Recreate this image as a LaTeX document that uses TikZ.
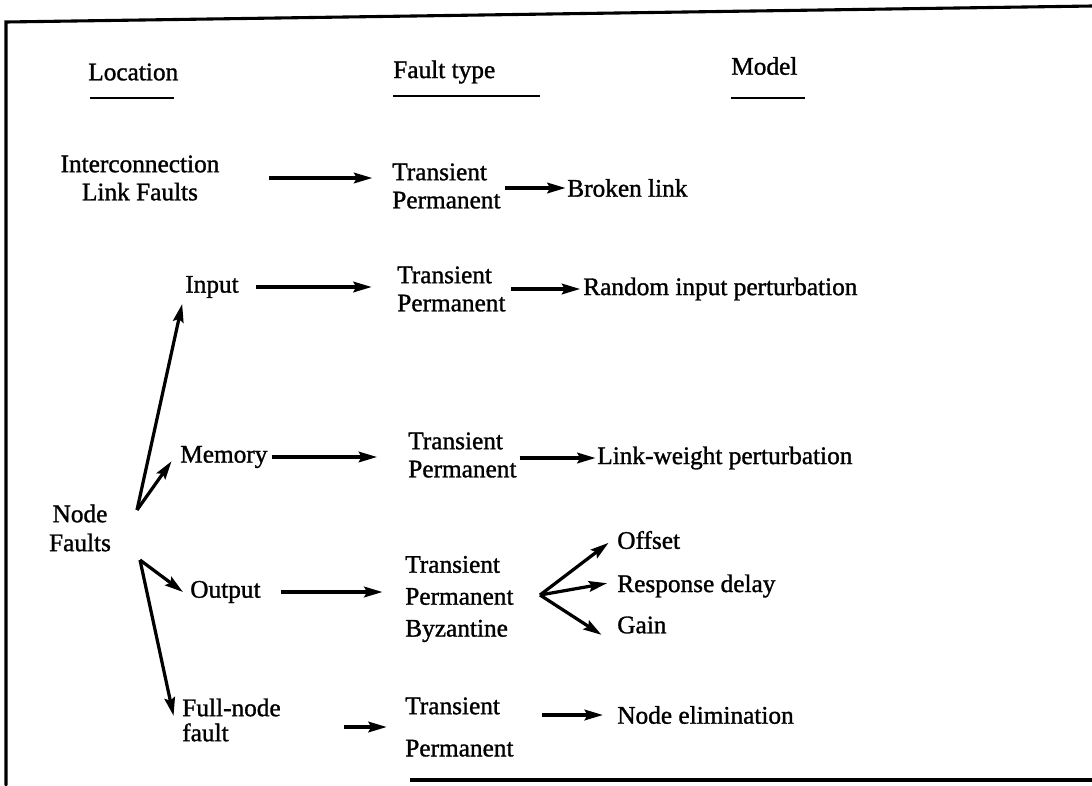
\documentclass[tikz,border=0pt]{standalone}
\usepackage{fontspec}
\setmainfont{Liberation Serif}[BoldFont={Liberation Serif}, BoldFeatures={FakeBold=1.2}]
\usepackage{tikz}
\usetikzlibrary{arrows.meta, positioning}

\begin{document}
\begin{tikzpicture}[x=0.025cm, y=-0.025cm, font=\fontsize{18}{20}\selectfont\bfseries,
    lbl/.style={inner sep=0pt, align=left, anchor=west},
    flow/.style={-{Stealth[length=13pt, width=7.5pt, inset=2pt]}, line width=2.3pt},
    head/.style={inner sep=0pt, anchor=west}]
        \useasboundingbox (0,0) rectangle (1092,785);
        % frame
        \draw[line width=2.2pt, line cap=round] (6,785) -- (6,22) -- (1092,6);
        \draw[line width=2.2pt] (410,780) -- (1092,780);

        % column heads
        \node[head] (loc) at (88,72) {Location};
        \node[head] (ftype) at (393,72) {Fault type};
        \node[head] (model) at (731,66) {Model};
        \draw[line width=1.4pt] (90,98) -- (174,98);
        \draw[line width=1.4pt] (393,96) -- (540,96);
        \draw[line width=1.4pt] (731,98) -- (805,98);

        % interconnection link faults
        \node[inner sep=0pt, align=center] (link) at (140,178) {Interconnection\\Link Faults};
        \node[lbl] (linkft) at (392,186) {Transient\\Permanent};
        \node[lbl] (broken) at (567,188) {Broken link};
        \draw[flow, shorten <=35pt, shorten >=14pt] (link) -- (link -| linkft.west);
        \draw[flow, shorten <=3pt, shorten >=1pt] (linkft.east |- broken) -- (broken);

        % node faults
        \node[inner sep=0pt, align=center, font=\fontsize{18}{20.6}\selectfont\bfseries] (nodef) at (80,528) {Node\\Faults};

        \node[lbl] (input) at (185,287) {Input};
        \node[lbl] (inputft) at (397,289) {Transient\\Permanent};
        \node[lbl] (randin) at (583,289) {Random input perturbation};
        \draw[flow, shorten <=12pt, shorten >=18pt] (input) -- (input -| inputft.west);
        \draw[flow, shorten <=4pt, shorten >=2pt] (inputft) -- (randin);

        \node[lbl] (memory) at (180,457) {Memory};
        \node[lbl] (memft) at (408,455) {Transient\\Permanent};
        \node[lbl] (lweight) at (597,458) {Link-weight perturbation};
        \draw[flow, shorten <=3pt, shorten >=22pt] (memory) -- (memory -| memft.west);
        \draw[flow, shorten <=2pt, shorten >=1pt] (memft.east |- lweight) -- (lweight);

        \node[lbl] (output) at (190,592) {Output};
        \node[lbl, font=\fontsize{18}{22.7}\selectfont\bfseries] (outft) at (405,599) {Transient\\Permanent\\Byzantine};
        \node[lbl] (offset) at (617,540) {Offset};
        \node[lbl] (delay) at (617,586) {Response delay};
        \node[lbl] (gain) at (617,625) {Gain};
        \draw[flow, shorten <=14pt, shorten >=16pt] (output) -- (output -| outft.west);
        \coordinate (fork) at (540,595);
        \draw[flow] (fork) -- ([xshift=-6pt, yshift=-2pt]offset.west);
        \draw[flow] (fork) -- ([xshift=-7pt, yshift=2pt]delay.west);
        \draw[flow] (fork) -- ([xshift=-11pt, yshift=-7pt]gain.west);

        \node[lbl, font=\fontsize{18}{17.8}\selectfont\bfseries] (fullnode) at (182,720) {Full-node\\fault};
        \node[lbl, font=\fontsize{18}{30}\selectfont\bfseries] (fullft) at (405,727) {Transient\\Permanent};
        \node[lbl] (nodeelim) at (617,715) {Node elimination};
        \draw[flow, shorten <=45pt, shorten >=13pt] (fullnode.east |- 0,727) -- (fullft.west |- 0,727);
        \draw[flow, shorten <=20pt, shorten >=10pt] (fullft.east |- nodeelim) -- (nodeelim);

        % fan out of node faults
        \coordinate (nfup) at (137,510);
        \coordinate (nfdown) at (140,560);
        \draw[flow] (nfup) -- ([xshift=-2pt, yshift=-12pt]input.west);
        \draw[flow] (nfup) -- ([xshift=-6pt, yshift=-3pt]memory.west);
        \draw[flow] (nfdown) -- ([xshift=-5pt]output.west);
        \draw[flow] (nfdown) -- ([xshift=-6pt, yshift=3pt]fullnode.west);
\end{tikzpicture}
\end{document}
